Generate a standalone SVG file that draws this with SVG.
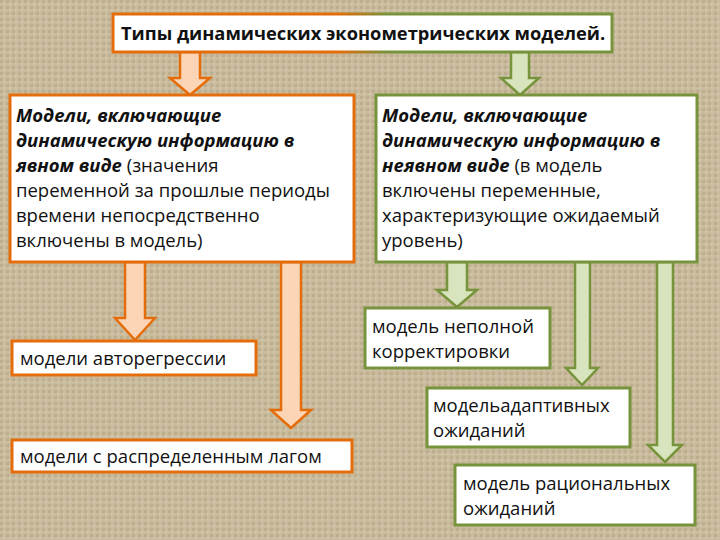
<svg xmlns="http://www.w3.org/2000/svg" width="720" height="540" viewBox="0 0 720 540">
<defs>
<linearGradient id="tb" x1="0" x2="1" y1="0" y2="0"><stop offset="0.45" stop-color="#e46c0a"/><stop offset="0.55" stop-color="#77933c"/></linearGradient>
<pattern id="bg" width="6" height="6" patternUnits="userSpaceOnUse"><rect width="6" height="6" fill="#c9bb9d"/><rect width="3" height="3" fill="#bfae8e"/><rect x="3" y="3" width="2" height="2" fill="#d4c7ab"/></pattern>
</defs>
<style>
.o{fill:#fbd5b5;stroke:#e46c0a;stroke-width:2.5}
.g{fill:#d7e4bd;stroke:#77933c;stroke-width:2.5}
.bo{fill:#fff;stroke:#e46c0a;stroke-width:3}
.bg{fill:#fff;stroke:#77933c;stroke-width:3}
text{font-family:"Open Sans","Liberation Sans",sans-serif;font-size:18.5px;fill:#111}
.i{font-style:italic;font-weight:bold}
</style>
<rect width="720" height="540" fill="url(#bg)"/>
<g id="connectors">
<path class="o" d="M180,52V78H170L190,95L210,78H200V52Z"/>
<path class="g" d="M511,52V78H501L520,95L539,78H529V52Z"/>
<path class="o" d="M125,262V318H115L135,340L155,318H145V262Z"/>
<path class="o" d="M281,262V410H271L291,428L311,410H301V262Z"/>
<path class="g" d="M447,262V290H437L457,307L477,290H467V262Z"/>
<path class="g" d="M575,262V368H566L582,385L598,368H590V262Z"/>
<path class="g" d="M657,262V445H648L665,462L682,445H673V262Z"/>
</g>
<g id="top"><rect x="113" y="14" width="499" height="38" fill="#fff" stroke="url(#tb)" stroke-width="3"/>
<text x="121" y="40" font-weight="bold" style="font-size:18.3px">Типы  динамических эконометрических моделей.</text></g>
<g id="left"><rect class="bo" x="10" y="95" width="344" height="167"/>
<text x="16" y="122"><tspan class="i">Модели, включающие</tspan><tspan x="16" dy="25" class="i">динамическую информацию в</tspan><tspan x="16" dy="25"><tspan class="i">явном виде</tspan> (значения</tspan><tspan x="16" dy="25">переменной за прошлые периоды</tspan><tspan x="16" dy="25">времени непосредственно</tspan><tspan x="16" dy="25">включены в модель)</tspan></text></g>
<g id="right"><rect class="bg" x="376" y="95" width="321" height="167"/>
<text x="382" y="122"><tspan class="i">Модели, включающие</tspan><tspan x="382" dy="25" class="i">динамическую информацию в</tspan><tspan x="382" dy="25"><tspan class="i">неявном виде</tspan> (в модель</tspan><tspan x="382" dy="25">включены переменные,</tspan><tspan x="382" dy="25">характеризующие ожидаемый</tspan><tspan x="382" dy="25">уровень)</tspan></text></g>
<g id="autoreg"><rect class="bo" x="12" y="341" width="244" height="34"/><text x="20" y="365">модели авторегрессии</text></g>
<g id="lag"><rect class="bo" x="12" y="440" width="340" height="32"/><text x="20" y="463">модели с распределенным лагом</text></g>
<g id="partial"><rect class="bg" x="365" y="308" width="185" height="60"/><text x="372" y="333">модель неполной<tspan x="372" dy="25">корректировки</tspan></text></g>
<g id="adaptive"><rect class="bg" x="427" y="388" width="203" height="59"/><text x="433" y="412">модельадаптивных<tspan x="433" dy="25">ожиданий</tspan></text></g>
<g id="rational"><rect class="bg" x="455" y="465" width="240" height="60"/><text x="463" y="490">модель  рациональных<tspan x="463" dy="25">ожиданий</tspan></text></g>
</svg>
